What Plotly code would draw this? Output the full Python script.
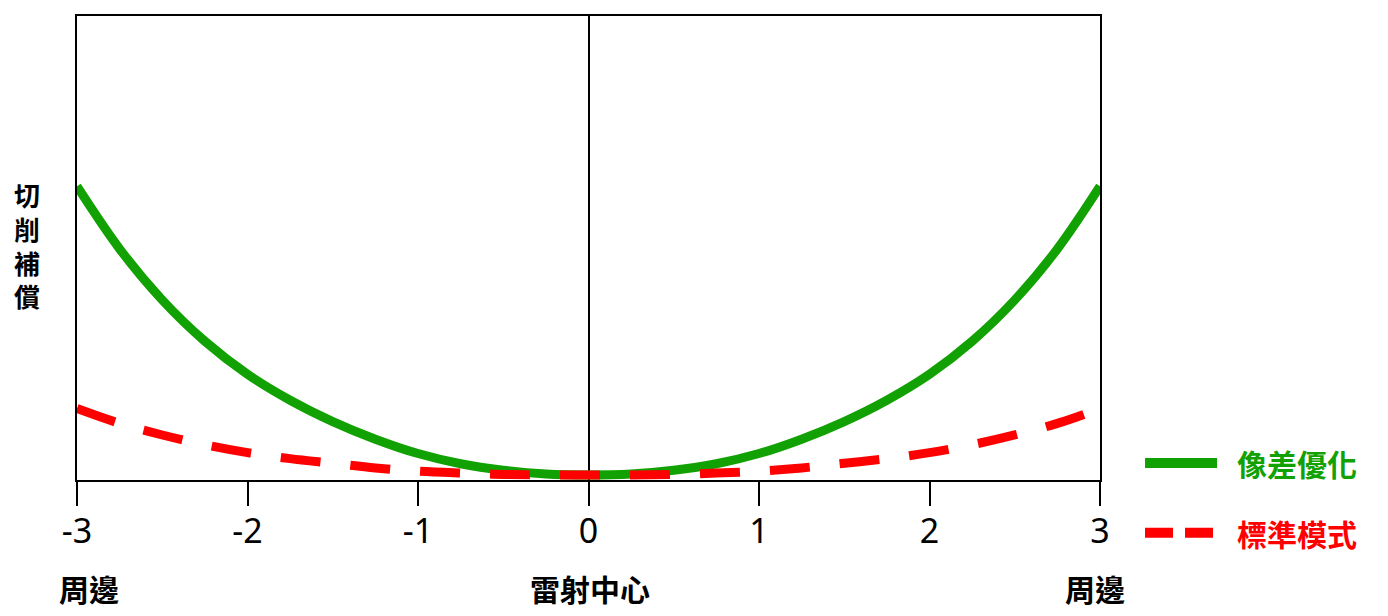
import plotly.graph_objects as go

# ---- data ----
x_vals = [-3, -2.75, -2.5, -2.25, -2, -1.75, -1.5, -1.25, -1, -0.75, -0.5, -0.25,
          0, 0.25, 0.5, 0.75, 1, 1.25, 1.5, 1.75, 2, 2.25, 2.5, 2.75, 3]
green_vals = [6.33, 4.98, 3.88, 2.99, 2.28, 1.72, 1.26, 0.88, 0.57, 0.35, 0.21, 0.13,
              0.11, 0.13, 0.21, 0.35, 0.57, 0.88, 1.26, 1.72, 2.28, 2.99, 3.88, 4.98, 6.33]
red_vals = [1.54, 1.22, 0.97, 0.76, 0.59, 0.46, 0.36, 0.26, 0.19, 0.15, 0.12, 0.11,
            0.11, 0.11, 0.12, 0.15, 0.19, 0.26, 0.36, 0.46, 0.59, 0.76, 0.97, 1.22, 1.54]
series_names = ["像差優化", "標準模式"]
tick_vals = [-3, -2, -1, 0, 1, 2, 3]
tick_text = ["-3", "-2", "-1", "0", "1", "2", "3"]
bottom_labels = ["周邊", "雷射中心", "周邊"]
y_label_chars = ["切", "削", "補", "償"]

GREEN = "#12a102"
RED = "#ff0000"
CJK = "Noto Sans CJK TC"

fig = go.Figure()
fig.add_trace(go.Scatter(x=x_vals, y=green_vals, mode="lines", name=series_names[0],
                         line=dict(color=GREEN, width=9, shape="spline", smoothing=1),
                         showlegend=False))
fig.add_trace(go.Scatter(x=x_vals, y=red_vals, mode="lines", name=series_names[1],
                         line=dict(color=RED, width=9, dash="40px,30px", shape="spline", smoothing=1),
                         showlegend=False))

# page body has an 8px margin, so the figure is 8px smaller than the window
fig.update_layout(
    width=1380, height=608, autosize=False,
    margin=dict(l=69, r=288, t=6, b=136, pad=0),
    plot_bgcolor="white", paper_bgcolor="white",
    showlegend=False,
)
fig.update_xaxes(
    range=[-3, 3], tickvals=tick_vals, ticktext=tick_text,
    ticks="outside", ticklen=24, tickwidth=2, tickcolor="black",
    showline=True, linewidth=2, linecolor="black", mirror=True,
    showgrid=False, zeroline=True, zerolinecolor="black", zerolinewidth=2,
    tickfont=dict(family="Noto Sans", size=34, color="black"),
    ticklabelstandoff=-4,
    layer="above traces", fixedrange=True,
)
fig.update_yaxes(
    range=[0, 10], showticklabels=False, ticks="",
    showline=True, linewidth=2, linecolor="black", mirror=True,
    showgrid=False, zeroline=False, layer="above traces", fixedrange=True,
)

# bottom category labels
for xv, txt in zip([-2.93, 0.01, 2.97], bottom_labels):
    fig.add_annotation(x=xv, xref="x", y=-0.2318, yref="paper", text=txt,
                       showarrow=False, xanchor="center", yanchor="middle",
                       font=dict(family=CJK, size=30, color="black", weight="bold"))

# stacked (vertical) y-axis label as one text block
fig.add_annotation(x=-0.0489, xref="paper", y=0.5054, yref="paper",
                   text="<br>".join(y_label_chars),
                   showarrow=False, xanchor="center", yanchor="middle", align="center",
                   font=dict(family=CJK, size=26, color="black", weight="bold"))

# manual legend
leg_y = [0.0365, -0.1137]
leg_col = [GREEN, RED]
leg_dash = ["solid", "28px,12px"]
for yv, col, dsh, name in zip(leg_y, leg_col, leg_dash, series_names):
    fig.add_shape(type="line", xref="paper", yref="paper", x0=1.044, x1=1.1144, y0=yv, y1=yv,
                  line=dict(color=col, width=10, dash=dsh))
    fig.add_annotation(x=1.132, xref="paper", y=yv, yref="paper", text=name,
                       showarrow=False, xanchor="left", yanchor="middle",
                       font=dict(family=CJK, size=30, color=col, weight="bold"))

fig.write_html("out.html")
